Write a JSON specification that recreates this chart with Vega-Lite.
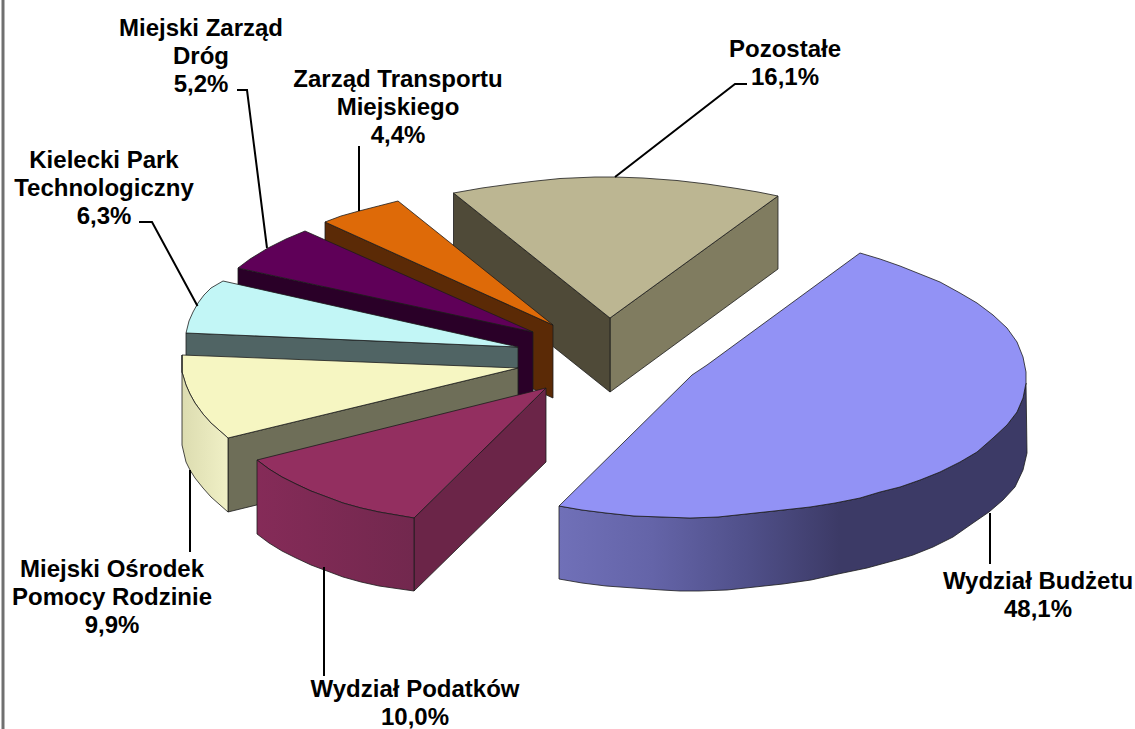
{"$schema":"https://vega.github.io/schema/vega-lite/v6.json","width":1135,"height":729,"padding":0,"autosize":{"type":"none"},"background":"white","view":{"stroke":null},
"datasets":{
"frame":[{"x":3}],
"flat":[
{"p":"poz_r","n":1,"x":778,"y":196},{"p":"poz_r","n":2,"x":778,"y":269},{"p":"poz_r","n":3,"x":610,"y":392},{"p":"poz_r","n":4,"x":610,"y":318},{"p":"poz_r","n":5,"x":778,"y":196},
{"p":"poz_l","n":1,"x":453.5,"y":193},{"p":"poz_l","n":2,"x":610,"y":318},{"p":"poz_l","n":3,"x":610,"y":392},{"p":"poz_l","n":4,"x":453.5,"y":267},{"p":"poz_l","n":5,"x":453.5,"y":193},
{"p":"poz_t","n":1,"x":453.5,"y":193},{"p":"poz_t","n":2,"x":482,"y":188},{"p":"poz_t","n":3,"x":511,"y":184},{"p":"poz_t","n":4,"x":536,"y":181},{"p":"poz_t","n":5,"x":560,"y":178.5},{"p":"poz_t","n":6,"x":595,"y":177},{"p":"poz_t","n":7,"x":615,"y":177},{"p":"poz_t","n":8,"x":643,"y":178},{"p":"poz_t","n":9,"x":677,"y":180.5},{"p":"poz_t","n":10,"x":707,"y":184},{"p":"poz_t","n":11,"x":737,"y":188.5},{"p":"poz_t","n":12,"x":758,"y":192},{"p":"poz_t","n":13,"x":778,"y":196},{"p":"poz_t","n":14,"x":610,"y":318},{"p":"poz_t","n":15,"x":453.5,"y":193},
{"p":"ztm_s","n":1,"x":325,"y":222},{"p":"ztm_s","n":2,"x":553,"y":325},{"p":"ztm_s","n":3,"x":553,"y":398},{"p":"ztm_s","n":4,"x":325,"y":295},{"p":"ztm_s","n":5,"x":325,"y":222},
{"p":"ztm_t","n":1,"x":325,"y":222},{"p":"ztm_t","n":2,"x":341,"y":216},{"p":"ztm_t","n":3,"x":359,"y":211},{"p":"ztm_t","n":4,"x":378.5,"y":206},{"p":"ztm_t","n":5,"x":398,"y":201},{"p":"ztm_t","n":6,"x":553,"y":325},{"p":"ztm_t","n":7,"x":325,"y":222},
{"p":"mzd_s","n":1,"x":238,"y":268},{"p":"mzd_s","n":2,"x":533,"y":332},{"p":"mzd_s","n":3,"x":533,"y":405},{"p":"mzd_s","n":4,"x":238,"y":341},{"p":"mzd_s","n":5,"x":238,"y":268},
{"p":"mzd_t","n":1,"x":238,"y":268},{"p":"mzd_t","n":2,"x":250,"y":259},{"p":"mzd_t","n":3,"x":268,"y":248},{"p":"mzd_t","n":4,"x":286,"y":239},{"p":"mzd_t","n":5,"x":305,"y":231},{"p":"mzd_t","n":6,"x":533,"y":332},{"p":"mzd_t","n":7,"x":238,"y":268},
{"p":"kpt_s","n":1,"x":186,"y":333},{"p":"kpt_s","n":2,"x":518,"y":347},{"p":"kpt_s","n":3,"x":518,"y":420},{"p":"kpt_s","n":4,"x":186,"y":406},{"p":"kpt_s","n":5,"x":186,"y":333},
{"p":"kpt_t","n":1,"x":223,"y":281},{"p":"kpt_t","n":2,"x":211,"y":288},{"p":"kpt_t","n":3,"x":204,"y":295},{"p":"kpt_t","n":4,"x":198,"y":303},{"p":"kpt_t","n":5,"x":193,"y":312},{"p":"kpt_t","n":6,"x":189,"y":321},{"p":"kpt_t","n":7,"x":186,"y":333},{"p":"kpt_t","n":8,"x":518,"y":347},{"p":"kpt_t","n":9,"x":223,"y":281},
{"p":"mop_r","n":1,"x":228,"y":438},{"p":"mop_r","n":2,"x":518,"y":368},{"p":"mop_r","n":3,"x":518,"y":441},{"p":"mop_r","n":4,"x":228,"y":512},{"p":"mop_r","n":5,"x":228,"y":438},
{"p":"mop_t","n":1,"x":182,"y":355},{"p":"mop_t","n":2,"x":182,"y":372},{"p":"mop_t","n":3,"x":186,"y":385},{"p":"mop_t","n":4,"x":190,"y":394},{"p":"mop_t","n":5,"x":195,"y":403},{"p":"mop_t","n":6,"x":203,"y":414},{"p":"mop_t","n":7,"x":211,"y":423},{"p":"mop_t","n":8,"x":228,"y":438},{"p":"mop_t","n":9,"x":518,"y":368},{"p":"mop_t","n":10,"x":182,"y":355},
{"p":"pod_r","n":1,"x":414,"y":518},{"p":"pod_r","n":2,"x":546,"y":388},{"p":"pod_r","n":3,"x":546,"y":462},{"p":"pod_r","n":4,"x":414,"y":591},{"p":"pod_r","n":5,"x":414,"y":518},
{"p":"pod_t","n":1,"x":546,"y":388},{"p":"pod_t","n":2,"x":257,"y":460},{"p":"pod_t","n":3,"x":269,"y":469},{"p":"pod_t","n":4,"x":282,"y":477},{"p":"pod_t","n":5,"x":296,"y":484},{"p":"pod_t","n":6,"x":311,"y":491},{"p":"pod_t","n":7,"x":327,"y":497},{"p":"pod_t","n":8,"x":343,"y":503},{"p":"pod_t","n":9,"x":361,"y":508},{"p":"pod_t","n":10,"x":379,"y":512},{"p":"pod_t","n":11,"x":414,"y":518},{"p":"pod_t","n":12,"x":546,"y":388}
],
"mopSide":[
{"n":1,"x":182,"y":355},{"n":2,"x":182,"y":372},{"n":3,"x":186,"y":385},{"n":4,"x":190,"y":394},{"n":5,"x":195,"y":403},{"n":6,"x":203,"y":414},{"n":7,"x":211,"y":423},{"n":8,"x":228,"y":438},{"n":9,"x":228,"y":512},{"n":10,"x":211,"y":497},{"n":11,"x":203,"y":488},{"n":12,"x":195,"y":478},{"n":13,"x":190,"y":470},{"n":14,"x":186,"y":462},{"n":15,"x":182,"y":445},{"n":16,"x":182,"y":355}
],
"podSide":[
{"n":1,"x":257,"y":460},{"n":2,"x":269,"y":469},{"n":3,"x":282,"y":477},{"n":4,"x":296,"y":484},{"n":5,"x":311,"y":491},{"n":6,"x":327,"y":497},{"n":7,"x":343,"y":503},{"n":8,"x":361,"y":508},{"n":9,"x":379,"y":512},{"n":10,"x":414,"y":518},{"n":11,"x":414,"y":591},{"n":12,"x":379,"y":586},{"n":13,"x":361,"y":582},{"n":14,"x":343,"y":577},{"n":15,"x":327,"y":571},{"n":16,"x":311,"y":565},{"n":17,"x":296,"y":558},{"n":18,"x":282,"y":551},{"n":19,"x":269,"y":543},{"n":20,"x":257,"y":534},{"n":21,"x":257,"y":460}
],
"budSide":[
{"n":1,"x":559,"y":506},{"n":2,"x":582,"y":510},{"n":3,"x":606,"y":513},{"n":4,"x":634,"y":516},{"n":5,"x":662,"y":517},{"n":6,"x":690,"y":518},{"n":7,"x":718,"y":517},{"n":8,"x":746,"y":514},{"n":9,"x":774,"y":511},{"n":10,"x":810,"y":507},{"n":11,"x":835,"y":503},{"n":12,"x":860,"y":498},{"n":13,"x":880,"y":492},{"n":14,"x":900,"y":487},{"n":15,"x":920,"y":480},{"n":16,"x":940,"y":472},{"n":17,"x":960,"y":462},{"n":18,"x":977,"y":452},{"n":19,"x":993,"y":438},{"n":20,"x":1007,"y":425},{"n":21,"x":1017,"y":412},{"n":22,"x":1023,"y":398},{"n":23,"x":1026,"y":383},{"n":24,"x":1027,"y":453},{"n":25,"x":1023,"y":470},{"n":26,"x":1015,"y":487},{"n":27,"x":1003,"y":500},{"n":28,"x":989,"y":512},{"n":29,"x":973,"y":523},{"n":30,"x":953,"y":537},{"n":31,"x":933,"y":547},{"n":32,"x":913,"y":555},{"n":33,"x":900,"y":559},{"n":34,"x":867,"y":568},{"n":35,"x":838,"y":574},{"n":36,"x":811,"y":580},{"n":37,"x":783,"y":584},{"n":38,"x":755,"y":587},{"n":39,"x":727,"y":590},{"n":40,"x":699,"y":591},{"n":41,"x":680,"y":591},{"n":42,"x":662,"y":590},{"n":43,"x":634,"y":588},{"n":44,"x":606,"y":586},{"n":45,"x":582,"y":583},{"n":46,"x":559,"y":579},{"n":47,"x":559,"y":506}
],
"budTop":[
{"n":1,"x":860,"y":253},{"n":2,"x":880,"y":259},{"n":3,"x":900,"y":266},{"n":4,"x":920,"y":274},{"n":5,"x":940,"y":282},{"n":6,"x":960,"y":293},{"n":7,"x":977,"y":303},{"n":8,"x":993,"y":315},{"n":9,"x":1007,"y":328},{"n":10,"x":1017,"y":342},{"n":11,"x":1023,"y":357},{"n":12,"x":1026,"y":372},{"n":13,"x":1026,"y":383},{"n":14,"x":1023,"y":398},{"n":15,"x":1017,"y":412},{"n":16,"x":1007,"y":425},{"n":17,"x":993,"y":438},{"n":18,"x":977,"y":452},{"n":19,"x":960,"y":462},{"n":20,"x":940,"y":472},{"n":21,"x":920,"y":480},{"n":22,"x":900,"y":487},{"n":23,"x":880,"y":492},{"n":24,"x":860,"y":498},{"n":25,"x":835,"y":503},{"n":26,"x":810,"y":507},{"n":27,"x":774,"y":511},{"n":28,"x":746,"y":514},{"n":29,"x":718,"y":517},{"n":30,"x":690,"y":518},{"n":31,"x":662,"y":517},{"n":32,"x":634,"y":516},{"n":33,"x":606,"y":513},{"n":34,"x":582,"y":510},{"n":35,"x":559,"y":506},{"n":36,"x":692,"y":375},{"n":37,"x":707,"y":365},{"n":38,"x":860,"y":253}
],
"leaders":[
{"slice":"Miejski Zarząd Dróg","n":1,"x":237,"y":90},{"slice":"Miejski Zarząd Dróg","n":2,"x":247,"y":90},{"slice":"Miejski Zarząd Dróg","n":3,"x":267,"y":248},
{"slice":"Zarząd Transportu Miejskiego","n":1,"x":359,"y":146},{"slice":"Zarząd Transportu Miejskiego","n":2,"x":359,"y":211},
{"slice":"Kielecki Park Technologiczny","n":1,"x":139,"y":222},{"slice":"Kielecki Park Technologiczny","n":2,"x":152,"y":222},{"slice":"Kielecki Park Technologiczny","n":3,"x":197.5,"y":306},
{"slice":"Pozostałe","n":1,"x":747,"y":84},{"slice":"Pozostałe","n":2,"x":735,"y":84},{"slice":"Pozostałe","n":3,"x":615,"y":177},
{"slice":"Wydział Budżetu","n":1,"x":990,"y":513},{"slice":"Wydział Budżetu","n":2,"x":990,"y":564},
{"slice":"Wydział Podatków","n":1,"x":324,"y":567},{"slice":"Wydział Podatków","n":2,"x":324,"y":676},
{"slice":"Miejski Ośrodek Pomocy Rodzinie","n":1,"x":190,"y":470},{"slice":"Miejski Ośrodek Pomocy Rodzinie","n":2,"x":190,"y":552}
],
"labels":[
{"slice":"Wydział Budżetu","share":48.1,"label":"Wydział Budżetu\n48,1%","x":1038,"y":589},
{"slice":"Wydział Podatków","share":10.0,"label":"Wydział Podatków\n10,0%","x":415,"y":697},
{"slice":"Miejski Ośrodek Pomocy Rodzinie","share":9.9,"label":"Miejski Ośrodek\nPomocy Rodzinie\n9,9%","x":112,"y":577},
{"slice":"Kielecki Park Technologiczny","share":6.3,"label":"Kielecki Park\nTechnologiczny\n6,3%","x":104,"y":168},
{"slice":"Miejski Zarząd Dróg","share":5.2,"label":"Miejski Zarząd\nDróg\n5,2%","x":201,"y":36},
{"slice":"Zarząd Transportu Miejskiego","share":4.4,"label":"Zarząd Transportu\nMiejskiego\n4,4%","x":398,"y":87},
{"slice":"Pozostałe","share":16.1,"label":"Pozostałe\n16,1%","x":785,"y":57}
]
},
"encoding":{
"x":{"field":"x","type":"quantitative","axis":null,"scale":{"domain":[0,1135],"nice":false,"zero":false}},
"y":{"field":"y","type":"quantitative","axis":null,"scale":{"domain":[0,729],"nice":false,"zero":false,"reverse":true}}
},
"layer":[
{"data":{"name":"frame"},"mark":{"type":"rule","stroke":"#707070","strokeWidth":3},"encoding":{"y":null}},
{"data":{"name":"flat"},"mark":{"type":"line","stroke":"#1c1c1c","strokeWidth":0.8,"strokeJoin":"round"},
 "encoding":{"detail":{"field":"p"},"order":{"field":"n","type":"quantitative"},
 "fill":{"field":"p","type":"nominal","legend":null,"scale":{
 "domain":["poz_r","poz_l","poz_t","ztm_s","ztm_t","mzd_s","mzd_t","kpt_s","kpt_t","mop_r","mop_t","pod_r","pod_t"],
 "range":["#807C60","#4F4A38","#BCB692","#5B2A06","#DE6A08","#2A0028","#5F0058","#506464","#C2F6F6","#6E6E58","#F6F6C2","#6B2548","#932F60"]}}}},
{"data":{"name":"mopSide"},"mark":{"type":"line","stroke":"#1c1c1c","strokeWidth":0.8,"strokeJoin":"round","fill":{"gradient":"linear","x1":0,"x2":1,"y1":0,"y2":0,"stops":[{"offset":0,"color":"#DCDCB0"},{"offset":1,"color":"#F0F0C6"}]}},
 "encoding":{"order":{"field":"n","type":"quantitative"}}},
{"data":{"name":"podSide"},"mark":{"type":"line","stroke":"#1c1c1c","strokeWidth":0.8,"strokeJoin":"round","fill":{"gradient":"linear","x1":0,"x2":1,"y1":0,"y2":0,"stops":[{"offset":0,"color":"#852B58"},{"offset":1,"color":"#72284E"}]}},
 "encoding":{"order":{"field":"n","type":"quantitative"}}},
{"data":{"name":"budSide"},"mark":{"type":"line","stroke":"#1c1c1c","strokeWidth":0.8,"strokeJoin":"round","fill":{"gradient":"linear","x1":0,"x2":1,"y1":0,"y2":0,"stops":[{"offset":0,"color":"#7070B8"},{"offset":0.2,"color":"#6464A8"},{"offset":0.4,"color":"#50508A"},{"offset":0.6,"color":"#3C3A66"},{"offset":1,"color":"#3C3A66"}]}},
 "encoding":{"order":{"field":"n","type":"quantitative"}}},
{"data":{"name":"budTop"},"mark":{"type":"line","stroke":"#1c1c1c","strokeWidth":0.8,"strokeJoin":"round","fill":"#9292F5"},
 "encoding":{"order":{"field":"n","type":"quantitative"}}},
{"data":{"name":"leaders"},"mark":{"type":"line","stroke":"#000000","strokeWidth":2},
 "encoding":{"detail":{"field":"slice"},"order":{"field":"n","type":"quantitative"}}},
{"data":{"name":"labels"},"mark":{"type":"text","font":"Liberation Sans","fontWeight":"bold","fontSize":24,"align":"center","baseline":"alphabetic","lineBreak":"\n","lineHeight":28,"fill":"#000000"},
 "encoding":{"text":{"field":"label"}}}
]}
